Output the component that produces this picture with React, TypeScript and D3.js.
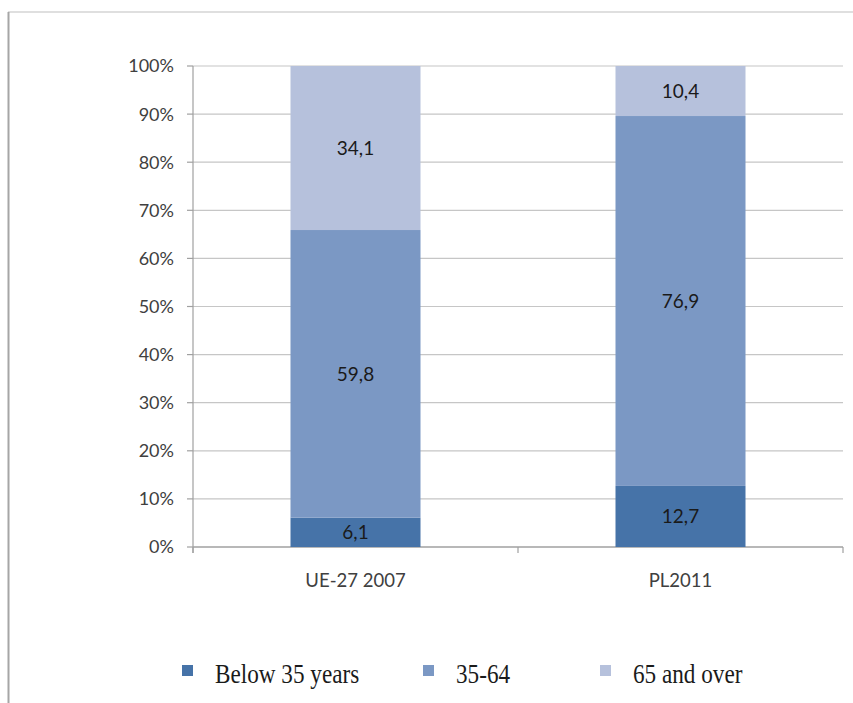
import React from "react";
import * as d3 from "d3";

const categories = ["UE-27 2007", "PL2011"];
const seriesNames = ["Below 35 years", "35-64", "65 and over"];
const below35 = [6.1, 12.7];
const mid3564 = [59.8, 76.9];
const over65 = [34.1, 10.4];
const yTicks = [0, 10, 20, 30, 40, 50, 60, 70, 80, 90, 100];
const colors = ["#4673a8", "#7b98c4", "#b6c1dc"];

const W = 853;
const H = 703;
const left = 193;
const right = 843;
const top = 66;
const bottom = 547;

export default function App() {
  const x = d3.scaleBand<string>().domain(categories).range([left, right]).paddingInner(0.6).paddingOuter(0.3);
  const y = d3.scaleLinear().domain([0, 100]).range([bottom, top]);
  const rows = categories.map((c, i) => ({ cat: c, s0: below35[i], s1: mid3564[i], s2: over65[i] }));
  const stack = d3.stack<any>().keys(["s0", "s1", "s2"])(rows);
  const font = "Lato, 'Open Sans', sans-serif";
  const boundaries = [left, (left + right) / 2, right];
  const legendX = [182, 423, 600];

  return (
    <svg width={W} height={H} style={{ position: "absolute", left: 0, top: 0, background: "#fff" }}>
      <rect x={0} y={0} width={W} height={H} fill="#fff" />
      <line x1={8} y1={12} x2={W} y2={12} stroke="#d4d4d4" strokeWidth={1.5} />
      <line x1={8.5} y1={12} x2={8.5} y2={H} stroke="#a6a6a6" strokeWidth={2} />
      {yTicks.map((t) => (
        <g key={t}>
          {t > 0 && <line x1={left} x2={right} y1={y(t)} y2={y(t)} stroke="#c6c6c6" strokeWidth={1.2} />}
          <line x1={left - 6} x2={left} y1={y(t)} y2={y(t)} stroke="#a0a0a0" strokeWidth={1.2} />
          <text x={174} y={y(t)} dy="0.36em" textAnchor="end" fontFamily={font} fontSize={18} fill="#404040">
            {t}%
          </text>
        </g>
      ))}
      <line x1={left} x2={left} y1={top} y2={bottom + 6} stroke="#a0a0a0" strokeWidth={1.2} />
      <line x1={left} x2={right} y1={bottom} y2={bottom} stroke="#a0a0a0" strokeWidth={1.4} />
      {boundaries.map((b, i) => (
        <line key={i} x1={b} x2={b} y1={bottom} y2={bottom + 6} stroke="#a0a0a0" strokeWidth={1.2} />
      ))}
      {stack.map((layer, si) =>
        layer.map((d, ci) => {
          const bx = x(categories[ci])!;
          const y0 = y(d[1]);
          const y1 = y(d[0]);
          const v = d[1] - d[0];
          return (
            <g key={`${si}-${ci}`}>
              <rect x={bx} y={y0} width={x.bandwidth()} height={y1 - y0} fill={colors[si]} />
              <text
                x={bx + x.bandwidth() / 2}
                y={(y0 + y1) / 2}
                dy="0.36em"
                textAnchor="middle"
                fontFamily={font}
                fontSize={19}
                fill="#1a1a1a"
              >
                {v.toFixed(1).replace(".", ",")}
              </text>
            </g>
          );
        })
      )}
      {categories.map((c) => (
        <text key={c} x={x(c)! + x.bandwidth() / 2} y={580} dy="0.36em" textAnchor="middle" fontFamily={font} fontSize={18.5} fill="#404040">
          {c}
        </text>
      ))}
      {seriesNames.map((n, i) => (
        <g key={n}>
          <rect x={legendX[i]} y={665} width={11} height={11} fill={colors[i]} />
          <g transform={`translate(${legendX[i] + 33},683) scale(1,1.22)`}>
            <text x={0} y={0} fontFamily="'Liberation Serif', 'DejaVu Serif', serif" fontSize={23.2} fill="#1a1a1a">
              {n}
            </text>
          </g>
        </g>
      ))}
    </svg>
  );
}
